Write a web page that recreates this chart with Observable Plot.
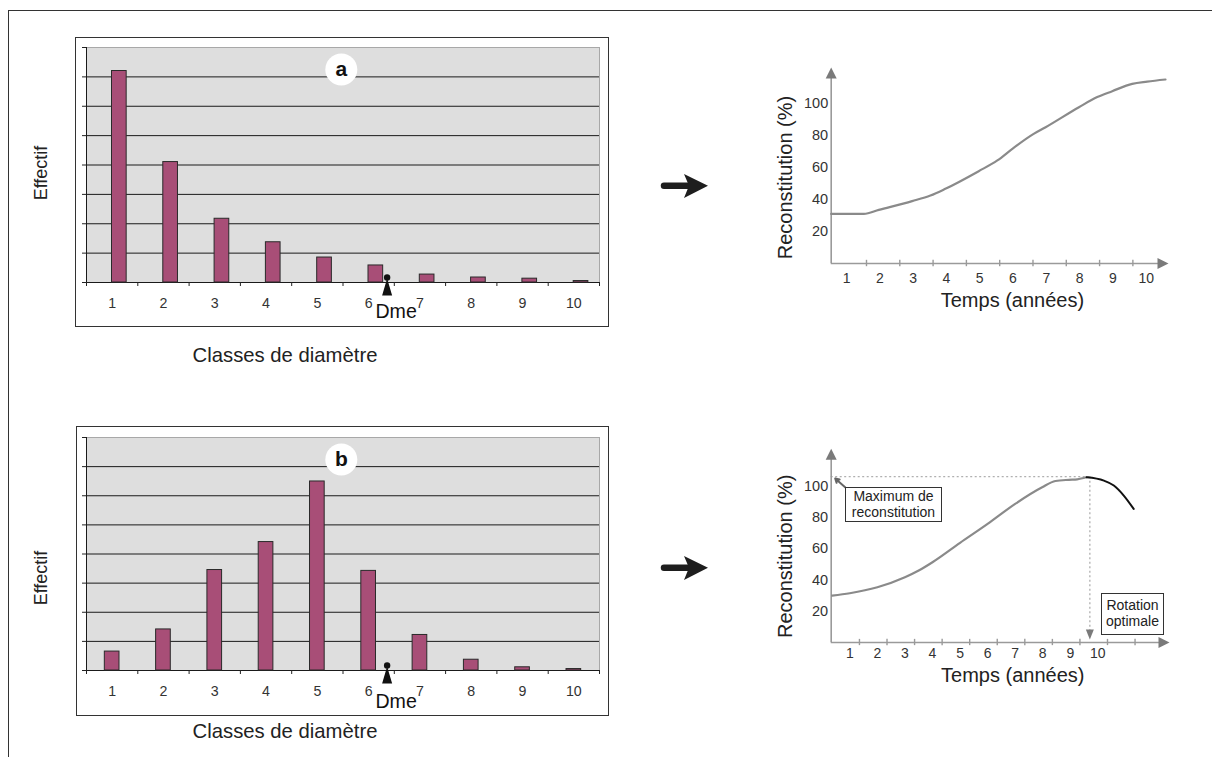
<!DOCTYPE html>
<html><head><meta charset="utf-8">
<script src="https://cdn.jsdelivr.net/npm/d3@7"></script>
<script src="https://cdn.jsdelivr.net/npm/@observablehq/plot@0.6"></script>
<style>
body{margin:0;background:#fff;}
#root{position:relative;width:1212px;height:757px;overflow:hidden;font-family:"Liberation Sans",Arial,sans-serif;color:#222;background:#fff;}
.frame{position:absolute;left:8px;top:10px;width:1220px;height:760px;border-top:1.5px solid #333;border-left:1.5px solid #333;}
.box{position:absolute;border:1.5px solid #333;box-sizing:border-box;background:#fff;}
.chart{position:absolute;}
.vlab{position:absolute;font-size:18px;transform:translate(-50%,-50%) rotate(-90deg);white-space:nowrap;}
.hlab{position:absolute;font-size:20.3px;transform:translate(-50%,-50%);white-space:nowrap;}
.note{position:absolute;border:1px solid #333;background:#fff;box-sizing:border-box;text-align:center;font-size:14px;line-height:15.5px;color:#222;padding-top:1px;}
</style></head>
<body><div id="root">
<div class="frame"></div>
<div class="box" style="left:75px;top:37px;width:534px;height:290px"></div>
<div class="box" style="left:76px;top:426px;width:533px;height:290px"></div>
<div id="ca" class="chart" style="left:75px;top:37px"></div>
<div id="cb" class="chart" style="left:76px;top:426px"></div>
<div id="cc" class="chart" style="left:760px;top:50px"></div>
<div id="cd" class="chart" style="left:760px;top:440px"></div>
<div class="vlab" style="left:41px;top:173px">Effectif</div>
<div class="vlab" style="left:41px;top:578px">Effectif</div>
<div class="hlab" style="left:285px;top:355px">Classes de diamètre</div>
<div class="hlab" style="left:285px;top:731px">Classes de diamètre</div>
<svg class="chart" style="left:650px;top:160px" width="70" height="50">
  <line x1="14" y1="25.7" x2="38" y2="25.7" stroke="#1e1e1e" stroke-width="6.5" stroke-linecap="round"/>
  <polygon points="34,14 58,25.7 34,38 39,25.7" fill="#1e1e1e"/>
</svg>
<svg class="chart" style="left:650px;top:542px" width="70" height="50">
  <line x1="14" y1="25.7" x2="38" y2="25.7" stroke="#1e1e1e" stroke-width="6.5" stroke-linecap="round"/>
  <polygon points="34,14 58,25.7 34,38 39,25.7" fill="#1e1e1e"/>
</svg>
<div class="note" style="left:845px;top:487px;width:97px;height:35px">Maximum de<br>reconstitution</div>
<div class="note" style="left:1101px;top:593px;width:63px;height:42px;padding-top:4px">Rotation<br>optimale</div>
</div>
<script>
// ---------- data ----------
const classes = [1, 2, 3, 4, 5, 6, 7, 8, 9, 10];
const effectifA = [7.2, 4.1, 2.17, 1.37, 0.85, 0.58, 0.27, 0.17, 0.13, 0.05];
const effectifB = [0.65, 1.41, 3.45, 4.41, 6.49, 3.42, 1.22, 0.37, 0.11, 0.05];
const dmeA = 6.36;
const dmeB = 6.36;
const gridLevels = [0, 1, 2, 3, 4, 5, 6, 7, 8];
const classBounds = [0.5, 1.5, 2.5, 3.5, 4.5, 5.5, 6.5, 7.5, 8.5, 9.5, 10.5];

const yearLabels = [1, 2, 3, 4, 5, 6, 7, 8, 9, 10];
const reconTicks = [20, 40, 60, 80, 100];
const tempsA = [0.54, 1.52, 1.97, 2.97, 3.52, 3.97, 4.97, 5.53, 6.0, 6.62, 6.98, 7.98, 8.53, 8.98, 9.58, 10.03, 10.58];
const reconA = [31, 31, 33.5, 39, 42.5, 46.7, 57.7, 64.4, 72, 81, 85.2, 97.7, 104, 107.7, 112.3, 113.7, 115];
const tempsB = [0.36, 1, 2, 3, 3.5, 4, 5, 6, 7, 7.98, 8.46, 8.95, 9.25, 9.59];
const reconB = [30, 31.5, 35.3, 41.7, 46, 51.3, 63.7, 75.8, 88.6, 99.2, 103.2, 104, 104.3, 105.6];
const tempsDeclin = [9.59, 10.22, 10.58, 10.94, 11.3];
const reconDeclin = [105.6, 103.5, 100.3, 93.9, 85.4];
const maxReconstitution = 106;
const rotationOptimale = 9.71;
const tickYearsA = [1.6, 2.6, 3.6, 4.6, 5.6, 6.6, 7.6, 8.6, 9.6];
const tickYearsB = [1.35, 2.35, 3.35, 4.35, 5.35, 6.35, 7.35, 8.35, 9.35, 10.35, 11.35];

// ---------- symbols ----------
const pawn = {draw(c) { c.moveTo(0, -8.5); c.lineTo(5, 8.5); c.lineTo(-5, 8.5); c.closePath(); }};
const triUp = {draw(c) { c.moveTo(0, -6); c.lineTo(5.5, 5); c.lineTo(-5.5, 5); c.closePath(); }};
const triRight = {draw(c) { c.moveTo(6, 0); c.lineTo(-5, -5.5); c.lineTo(-5, 5.5); c.closePath(); }};
const triDown = {draw(c) { c.moveTo(0, 5); c.lineTo(-4, -5); c.lineTo(4, -5); c.closePath(); }};

const font = "'Liberation Sans', Arial, sans-serif";

function barChart(values, shift, letter, dme, m, w, h, dmeDy) {
  const data = classes.map((c, i) => ({c, v: values[i]}));
  const half = 0.143;
  return Plot.plot({
    width: w, height: h,
    marginLeft: m[0], marginTop: m[1], marginRight: m[2], marginBottom: m[3],
    x: {domain: [0.5, 10.5], axis: null},
    y: {domain: [0, 8], axis: null},
    style: {fontFamily: font, background: "transparent", color: "#222", overflow: "visible"},
    marks: [
      Plot.frame({fill: "#dedede", stroke: "#a8a8a8"}),
      Plot.ruleY(gridLevels.slice(0, 8), {stroke: "#1a1a1a", strokeWidth: 1}),
      Plot.rect(data, {x1: d => d.c + shift - half, x2: d => d.c + shift + half, y1: 0, y2: "v",
        fill: "#a84e77", stroke: "#2a2a2a", strokeWidth: 1}),
      Plot.ruleX([0.5], {y1: 0, y2: 8, stroke: "#1a1a1a"}),
      Plot.axisY({ticks: gridLevels, tickSize: 4, tickFormat: () => "", label: null}),
      Plot.axisX({ticks: classBounds, tickSize: 4, tickFormat: () => "", label: null}),
      Plot.text(classes, {x: d => d, y: 0, dy: 21, text: d => String(d), fontSize: 14.2, fill: "#333"}),
      Plot.dot([dme], {x: d => d, y: 0, dy: 4.5, symbol: pawn, r: 5, fill: "#111"}),
      Plot.dot([dme], {x: d => d, y: 0, dy: -5, r: 3.2, fill: "#111"}),
      Plot.text([dme], {x: d => d, y: 0, dx: 9, dy: dmeDy, text: () => "Dme", fontSize: 19.6, fill: "#111"}),
      Plot.dot([letter], {frameAnchor: "top", dx: -1.7, dy: 22, r: 16, fill: "white"}),
      Plot.text([letter], {frameAnchor: "top", lineAnchor: "middle", dx: -1.7, dy: 22, text: d => d, fontSize: 21, fontWeight: "bold", fill: "#111"})
    ]
  });
}

document.getElementById("ca").append(barChart(effectifA, 0.14, "a", dmeA, [11, 10, 10, 45], 534, 290, 29));
document.getElementById("cb").append(barChart(effectifB, 0, "b", dmeB, [10, 11, 10, 46], 533, 290, 31));

const axisGray = "#9a9a9a";
const headGray = "#7a7a7a";

// ---------- top right ----------
{
  const x0 = 0.54, x1 = 10.67, yTop = 122.5;
  const pts = tempsA.map((t, i) => ({t, r: reconA[i]}));
  const p = Plot.plot({
    width: 420, height: 270, marginLeft: 70.7, marginTop: 17, marginRight: 12, marginBottom: 57,
    x: {domain: [x0, x1], axis: null},
    y: {domain: [0, yTop], axis: null},
    style: {fontFamily: font, background: "transparent", color: "#222", overflow: "visible"},
    marks: [
      Plot.ruleY([0], {x1: x0, x2: x1 - 0.2, stroke: axisGray, strokeWidth: 1.6}),
      Plot.ruleX([x0], {y1: 0, y2: yTop - 4, stroke: axisGray, strokeWidth: 1.6}),
      Plot.ruleX(tickYearsA, {x: d => d, y1: -2, y2: 2, stroke: axisGray, strokeWidth: 1.4}),
      Plot.dot([x0], {x: d => d, y: yTop, dy: 6, symbol: triUp, r: 5, fill: headGray}),
      Plot.dot([x1], {x: d => d, y: 0, dx: -6, symbol: triRight, r: 5, fill: headGray}),
      Plot.text(reconTicks, {x: x0, y: d => d, dx: -3, textAnchor: "end", text: d => String(d), fontSize: 14.5, fill: "#333"}),
      Plot.text(yearLabels, {x: d => d, y: 0, dy: 15.3, text: d => String(d), fontSize: 14, fill: "#333"}),
      Plot.line(pts, {x: "t", y: "r", curve: "monotone-x", stroke: "#8a8a8a", strokeWidth: 2.2}),
      Plot.text(["Reconstitution (%)"], {frameAnchor: "left", textAnchor: "middle", lineAnchor: "middle", rotate: -90, dx: -45.7, dy: 12, fontSize: 20, fill: "#222"}),
      Plot.text(["Temps (années)"], {frameAnchor: "bottom", textAnchor: "middle", lineAnchor: "middle", dx: 12.6, dy: 37.3, fontSize: 20, fill: "#222"})
    ]
  });
  document.getElementById("cc").append(p);
}

// ---------- bottom right ----------
{
  const x0 = 0.325, x1 = 12.6, yTop = 123.8;
  const pts = tempsB.map((t, i) => ({t, r: reconB[i]}));
  const decl = tempsDeclin.map((t, i) => ({t, r: reconDeclin[i]}));
  const p = Plot.plot({
    width: 420, height: 260, marginLeft: 70.7, marginTop: 8.3, marginRight: 11, marginBottom: 58,
    x: {domain: [x0, x1], axis: null},
    y: {domain: [0, yTop], axis: null},
    style: {fontFamily: font, background: "transparent", color: "#222", overflow: "visible"},
    marks: [
      Plot.ruleY([maxReconstitution], {x1: x0, x2: rotationOptimale, stroke: "#b0b0b0", strokeWidth: 1.3, strokeDasharray: "2,2.5"}),
      Plot.ruleX([rotationOptimale], {y1: 4, y2: maxReconstitution, stroke: "#b0b0b0", strokeWidth: 1.3, strokeDasharray: "2,2.5"}),
      Plot.dot([rotationOptimale], {x: d => d, y: 0, dy: -8, symbol: triDown, r: 4, fill: headGray}),
      Plot.ruleY([0], {x1: x0, x2: x1 - 0.2, stroke: axisGray, strokeWidth: 1.6}),
      Plot.ruleX([x0], {y1: 0, y2: yTop - 4, stroke: axisGray, strokeWidth: 1.6}),
      Plot.ruleX(tickYearsB, {x: d => d, y1: -2, y2: 2, stroke: axisGray, strokeWidth: 1.4}),
      Plot.dot([x0], {x: d => d, y: yTop, dy: 6, symbol: triUp, r: 5, fill: headGray}),
      Plot.dot([x1], {x: d => d, y: 0, dx: -6, symbol: triRight, r: 5, fill: headGray}),
      Plot.text(reconTicks, {x: x0, y: d => d, dx: -3, textAnchor: "end", text: d => String(d), fontSize: 14.5, fill: "#333"}),
      Plot.text(yearLabels, {x: d => d, y: 0, dy: 11.3, text: d => String(d), fontSize: 14, fill: "#333"}),
      Plot.line(pts, {x: "t", y: "r", curve: "monotone-x", stroke: "#8a8a8a", strokeWidth: 2.2}),
      Plot.line(decl, {x: "t", y: "r", curve: "monotone-x", stroke: "#111", strokeWidth: 2}),
      Plot.arrow([0], {x1: 0.84, y1: 99, x2: 0.47, y2: 104.8, stroke: "#666", strokeWidth: 2, headLength: 5}),
      Plot.text(["Reconstitution (%)"], {frameAnchor: "left", textAnchor: "middle", lineAnchor: "middle", rotate: -90, dx: -45.7, dy: 10.7, fontSize: 20, fill: "#222"}),
      Plot.text(["Temps (années)"], {frameAnchor: "bottom", textAnchor: "middle", lineAnchor: "middle", dx: 12.4, dy: 33.3, fontSize: 20, fill: "#222"})
    ]
  });
  document.getElementById("cd").append(p);
}
</script>
</body></html>
